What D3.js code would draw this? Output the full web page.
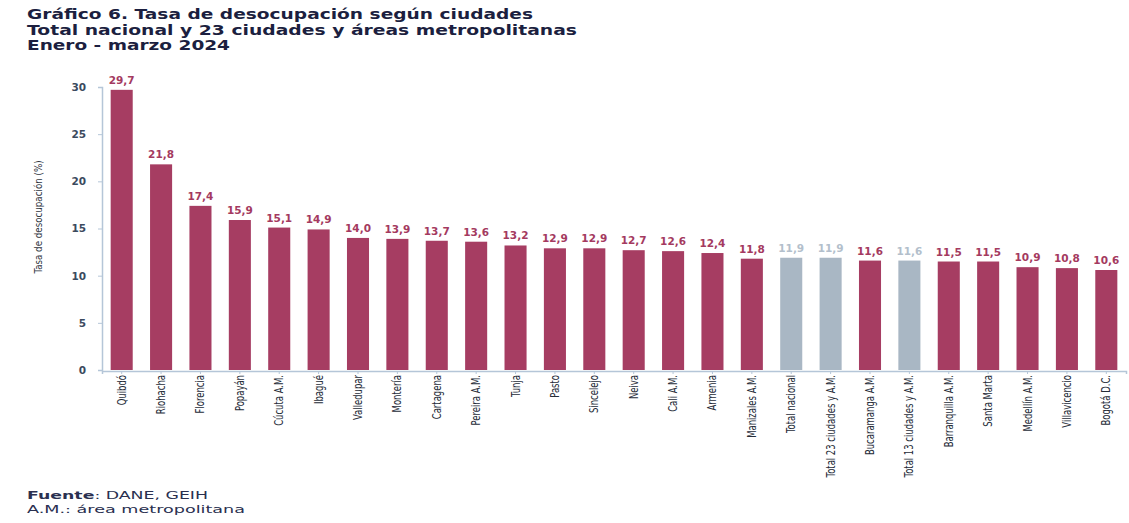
<!DOCTYPE html>
<html><head><meta charset="utf-8">
<script src="https://cdn.jsdelivr.net/npm/d3@7"></script>
<style>
body{margin:0;background:#fff;}
svg{display:block;}
</style></head><body>
<svg id="c" width="1129" height="523"></svg>
<script>
const categories = ["Quibdó","Riohacha","Florencia","Popayán","Cúcuta A.M.","Ibagué","Valledupar","Montería","Cartagena","Pereira A.M.","Tunja","Pasto","Sincelejo","Neiva","Cali A.M.","Armenia","Manizales A.M.","Total nacional","Total 23 ciudades y A.M.","Bucaramanga A.M.","Total 13 ciudades y A.M.","Barranquilla A.M.","Santa Marta","Medellín A.M.","Villavicencio","Bogotá D.C."];
const values = [29.7,21.8,17.4,15.9,15.1,14.9,14.0,13.9,13.7,13.6,13.2,12.9,12.9,12.7,12.6,12.4,11.8,11.9,11.9,11.6,11.6,11.5,11.5,10.9,10.8,10.6];
const totals = ["Total nacional","Total 23 ciudades y A.M.","Total 13 ciudades y A.M."];
const yTicks = [0,5,10,15,20,25,30];
const titleLines = ["Gráfico 6. Tasa de desocupación según ciudades","Total nacional y 23 ciudades y áreas metropolitanas","Enero - marzo 2024"];
const titleWidths = [506, 550, 203];

const svg = d3.select("#c");
const m = {left:102, right:1126, top:87, bottom:370};
const x = d3.scaleBand().domain(categories).range([m.left, m.right]).paddingInner(0.44).paddingOuter(0.22);
const y = d3.scaleLinear().domain([0,30]).range([m.bottom, m.top]);

const cityColor = "#a63d62", totColor = "#a9b7c4";
const cityLab = "#a43a60", totLab = "#b3bfcc";

// Titles
svg.append("g").selectAll("text").data(titleLines).join("text")
  .attr("x",27).attr("y",(d,i)=>19+i*15.5)
  .attr("font-family","DejaVu Sans").attr("font-weight","bold").attr("font-size",13.5)
  .attr("textLength",(d,i)=>titleWidths[i]).attr("lengthAdjust","spacingAndGlyphs")
  .attr("fill","#1c1f3f").text(d=>d);

// Y axis
const ya = svg.append("g").attr("transform",`translate(${m.left},0)`)
  .call(d3.axisLeft(y).tickValues(yTicks).tickSize(4).tickPadding(12));
ya.select(".domain").attr("stroke","#b5c6d8").attr("stroke-width",1.5);
ya.selectAll(".tick line").attr("stroke","#b5c6d8");
ya.selectAll(".tick text").attr("font-family","DejaVu Sans").attr("font-weight","bold")
  .attr("font-size",10.5).attr("fill","#3b4a5e");

// X axis line
const xa = svg.append("g").attr("transform",`translate(0,${m.bottom+1})`)
  .call(d3.axisBottom(x).tickSize(3).tickFormat(""));
xa.select(".domain").attr("stroke","#b5c6d8").attr("stroke-width",1.5);
xa.selectAll(".tick line").attr("stroke","#b5c6d8");

// Bars
svg.append("g").selectAll("rect").data(categories).join("rect")
  .attr("x",d=>x(d)).attr("width",x.bandwidth())
  .attr("y",(d,i)=>y(values[i])).attr("height",(d,i)=>y(0)-y(values[i]))
  .attr("fill",d=>totals.includes(d)?totColor:cityColor);

// Value labels
svg.append("g").selectAll("text").data(categories).join("text")
  .attr("x",d=>x(d)+x.bandwidth()/2).attr("y",(d,i)=>y(values[i])-6)
  .attr("text-anchor","middle").attr("font-family","DejaVu Sans").attr("font-weight","bold")
  .attr("font-size",10.5).attr("fill",d=>totals.includes(d)?totLab:cityLab)
  .text((d,i)=>d3.format(".1f")(values[i]).replace(".",","));

// Category labels
svg.append("g").selectAll("text").data(categories).join("text")
  .attr("transform",d=>`translate(${x(d)+x.bandwidth()/2+4},${m.bottom+5}) rotate(-90) scale(0.82,1)`)
  .attr("text-anchor","end").attr("font-family","'Liberation Sans Narrow', 'DejaVu Sans Condensed', sans-serif")
  .attr("font-size",11.5).attr("font-weight",500).attr("fill","#262c38")
  .text(d=>d);

// Y axis title
svg.append("text").attr("transform","translate(42,217) rotate(-90) scale(0.88,1)")
  .attr("text-anchor","middle").attr("font-family","'Liberation Sans Narrow', 'DejaVu Sans Condensed', sans-serif")
  .attr("font-size",11).attr("fill","#2e3440").text("Tasa de desocupación (%)");

// Footer
const f1 = svg.append("text").attr("x",27).attr("y",499).attr("font-family","DejaVu Sans").attr("font-size",11).attr("fill","#2a3050")
  .attr("textLength",181).attr("lengthAdjust","spacingAndGlyphs");
f1.append("tspan").attr("font-weight","bold").text("Fuente");
f1.append("tspan").text(": DANE, GEIH");
svg.append("text").attr("x",27).attr("y",513).attr("font-family","DejaVu Sans").attr("font-size",11).attr("fill","#2a3050")
  .attr("textLength",218).attr("lengthAdjust","spacingAndGlyphs")
  .text("A.M.: área metropolitana");
</script>
</body></html>
